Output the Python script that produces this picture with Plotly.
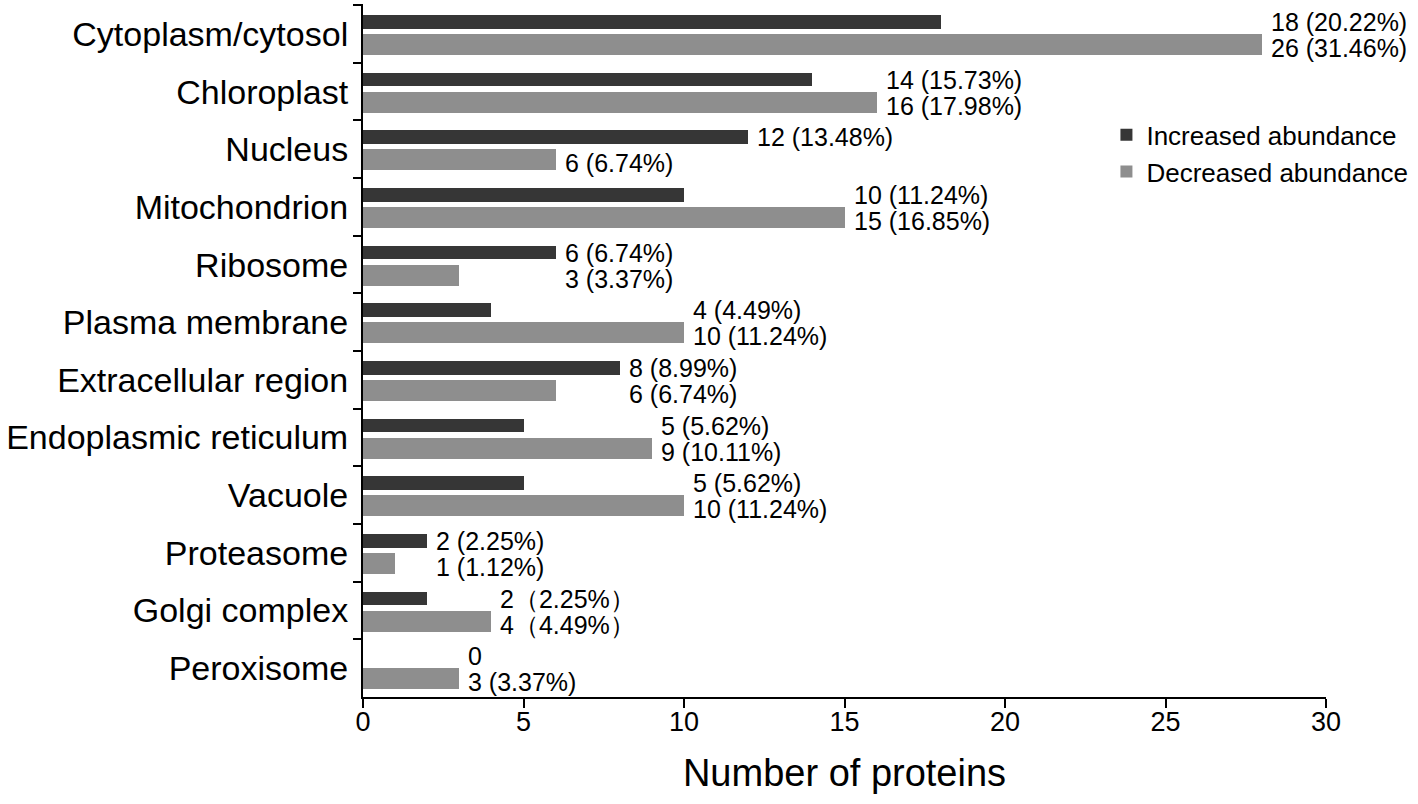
import plotly.graph_objects as go

categories = ["Cytoplasm/cytosol", "Chloroplast", "Nucleus", "Mitochondrion", "Ribosome",
              "Plasma membrane", "Extracellular region", "Endoplasmic reticulum", "Vacuole",
              "Proteasome", "Golgi complex", "Peroxisome"]
increased = [18, 14, 12, 10, 6, 4, 8, 5, 5, 2, 2, 0]
decreased = [28, 16, 6, 15, 3, 10, 6, 9, 10, 1, 4, 3]
inc_labels = ["18 (20.22%)", "14 (15.73%)", "12 (13.48%)", "10 (11.24%)", "6 (6.74%)",
              "4 (4.49%)", "8 (8.99%)", "5 (5.62%)", "5 (5.62%)", "2 (2.25%)",
              "2（2.25%）", "0"]
dec_labels = ["26 (31.46%)", "16 (17.98%)", "6 (6.74%)", "15 (16.85%)", "3 (3.37%)",
              "10 (11.24%)", "6 (6.74%)", "9 (10.11%)", "10 (11.24%)", "1 (1.12%)",
              "4（4.49%）", "3 (3.37%)"]
dec_label_at_own_bar = ["Nucleus"]

FONT = "Liberation Sans, Arial, Helvetica, sans-serif"
DARK = "#363636"
GREY = "#8e8e8e"

fig = go.Figure()
fig.add_trace(go.Bar(
    y=categories, x=increased, orientation="h", name="Increased abundance",
    marker=dict(color=DARK, line=dict(width=0)), offset=-0.33, width=0.24,
))
fig.add_trace(go.Bar(
    y=categories, x=decreased, orientation="h", name="Decreased abundance",
    marker=dict(color=GREY, line=dict(width=0)), offset=0.0, width=0.365,
))

annotations = []
for c, i, d, il, dl in zip(categories, increased, decreased, inc_labels, dec_labels):
    m = max(i, d)
    annotations.append(dict(x=m, y=c, xref="x", yref="y", text=il, showarrow=False,
                            xanchor="left", yanchor="middle", xshift=7, yshift=12,
                            font=dict(family=FONT, size=25, color="black")))
    dx = d if c in dec_label_at_own_bar else m
    annotations.append(dict(x=dx, y=c, xref="x", yref="y", text=dl, showarrow=False,
                            xanchor="left", yanchor="middle", xshift=7, yshift=-14,
                            font=dict(family=FONT, size=25, color="black")))

fig.update_layout(
    width=1418, height=804,
    margin=dict(l=363, r=92, t=4, b=107),
    paper_bgcolor="white", plot_bgcolor="white",
    barmode="overlay",
    bargap=0,
    showlegend=True,
    legend=dict(x=0.772, y=0.845, xanchor="left", yanchor="top", traceorder="normal",
                font=dict(family=FONT, size=26, color="black"),
                bgcolor="rgba(0,0,0,0)", borderwidth=0),
    annotations=annotations,
    font=dict(family=FONT, color="black"),
)
fig.update_xaxes(
    range=[0, 30], dtick=5, tick0=0, showgrid=False, zeroline=False,
    showline=True, linecolor="black", linewidth=2,
    ticks="outside", ticklen=9, tickwidth=2, tickcolor="black",
    ticklabelstandoff=-9,
    tickfont=dict(family=FONT, size=27, color="black"),
    title=dict(text="Number of proteins", font=dict(family=FONT, size=38, color="black"), standoff=23),
)
fig.update_yaxes(
    type="category", autorange="reversed", showgrid=False, zeroline=False,
    showline=True, linecolor="black", linewidth=2,
    ticks="outside", ticklen=8, tickwidth=2, tickcolor="black", tickson="boundaries",
    ticklabelstandoff=6,
    tickfont=dict(family=FONT, size=34, color="black"),
)
fig.write_html("out.html", config={"displayModeBar": False},
               post_script="document.body.style.margin='0';")
